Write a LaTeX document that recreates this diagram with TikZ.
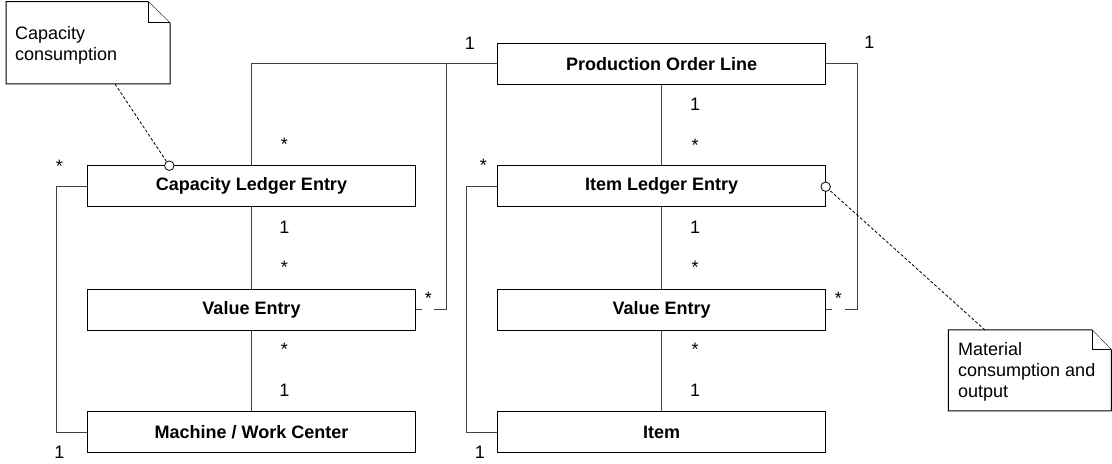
\documentclass[tikz,border=0pt]{standalone}
\usepackage{fontspec}
\setmainfont{Liberation Sans}
\usetikzlibrary{calc}
\tikzset{
  entity/.style={draw=black, line width=1.2bp, fill=white, minimum width=328bp, minimum height=41bp, inner sep=0pt, font=\fontsize{18bp}{21bp}\selectfont\bfseries},
  conn/.style={draw=black!75, line width=1bp},
  mult/.style={anchor=base, inner sep=0pt, font=\fontsize{18bp}{21bp}\selectfont},
  notebox/.style={draw=black, line width=1bp, fill=white},
  notetext/.style={anchor=north west, inner sep=0pt, align=left, font=\fontsize{18bp}{21bp}\selectfont},
  anchorlink/.style={draw=black, line width=0.8bp, dashed, dash pattern=on 3bp off 2bp},
  knob/.style={circle, draw=black, line width=0.8bp, fill=white, inner sep=0pt, minimum size=9.5bp}
}
\begin{document}
\begin{tikzpicture}[x=1bp,y=-1bp]
\useasboundingbox (0,0) rectangle (1112,464);
% entities
\node[entity] (po)  at (661.7,63.7)  {Production Order Line};
\node[entity] (cle) at (251.5,186.2) {Capacity Ledger Entry};
\node[entity] (vel) at (251.5,309.7) {Value Entry};
\node[entity] (mwc) at (251.5,432.2) {Machine / Work Center};
\node[entity] (ile) at (661.7,186.2) {Item Ledger Entry};
\node[entity] (ver) at (661.7,309.7) {Value Entry};
\node[entity] (itm) at (661.7,432.2) {Item};
% connectors
\draw[conn] (cle.north) |- (po.west);
\coordinate (jl) at (446.7,63.7);
\draw[conn] (jl) |- ($(vel.east)+(18.3,0)$);
\draw[conn] (vel.east) -- ++(5.7,0);
\draw[conn] (po.east) -- ++(31,0) |- ($(ver.east)+(18.3,0)$);
\draw[conn] (ver.east) -- ++(5.7,0);
\draw[conn] (po.south) -- (ile.north);
\draw[conn] (ile.south) -- (ver.north);
\draw[conn] (ver.south) -- (itm.north);
\draw[conn] (cle.south) -- (vel.north);
\draw[conn] (vel.south) -- (mwc.north);
\draw[conn] (cle.west) -- ++(-30.3,0) |- (mwc.west);
\draw[conn] (ile.west) -- ++(-31,0) |- (itm.west);
% multiplicities
\node[mult] (m1) at (470,49.3) {1};
\node[mult] (m2) at (869.3,49) {1};
\node[mult] (m3) at (284.3,151) {*};
\node[mult] (m4) at (59.3,172.3) {*};
\node[mult] (m5) at (284.3,233.3) {1};
\node[mult] (m6) at (284.3,273.3) {*};
\node[mult] (m7) at (428.3,305) {*};
\node[mult] (m8) at (284.3,356) {*};
\node[mult] (m9) at (284.3,396.7) {1};
\node[mult] (m10) at (59.3,458.3) {1};
\node[mult] (m11) at (695,111) {1};
\node[mult] (m12) at (695,151.7) {*};
\node[mult] (m13) at (483.3,171.7) {*};
\node[mult] (m14) at (695,233.3) {1};
\node[mult] (m15) at (695,273.3) {*};
\node[mult] (m16) at (838.3,305) {*};
\node[mult] (m17) at (695,356) {*};
\node[mult] (m18) at (695,396.7) {1};
\node[mult] (m19) at (480,458.3) {1};
% note 1
\draw[notebox] (6,1.7) -- (148,1.7) -- (170,23) -- (170,84) -- (6,84) -- cycle;
\draw[notebox] (148,1.7) -- (148,23) -- (170,23);
\node[notetext] (n1) at (15,26.2) {Capacity\\consumption};
\coordinate (n1a) at (115,84);
\node[knob] (k1) at (169.3,165.7) {};
\draw[anchorlink] (n1a) -- (k1);
% note 2
\draw[notebox] (948.3,330) -- (1092,330) -- (1111.4,350) -- (1111.4,411) -- (948.3,411) -- cycle;
\draw[notebox] (1092,330) -- (1092,350) -- (1111.4,350);
\node[notetext] (n2) at (958,342) {Material\\consumption and\\output};
\coordinate (n2a) at (985,330);
\node[knob] (k2) at (825.7,186.7) {};
\draw[anchorlink] (n2a) -- (k2);
\end{tikzpicture}
\end{document}
